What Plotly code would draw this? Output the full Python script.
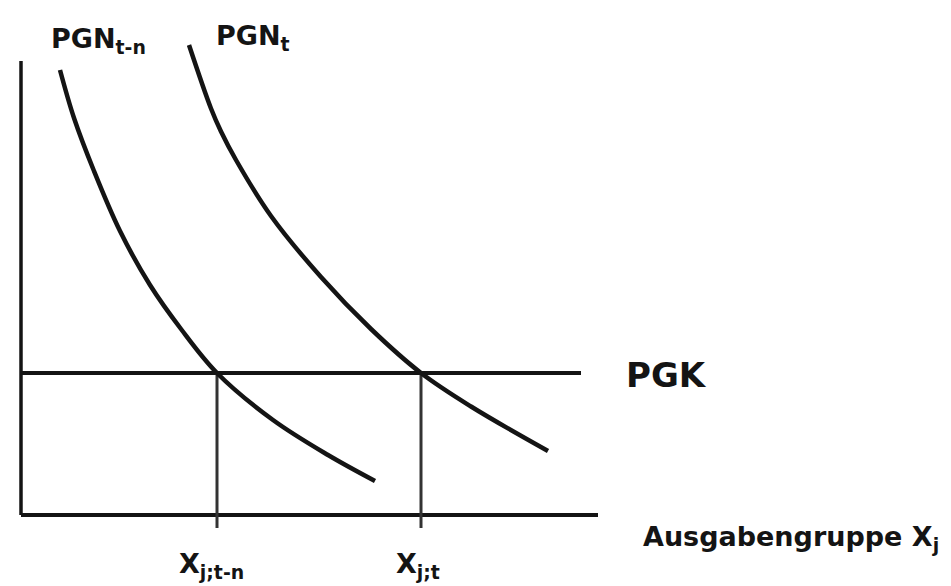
import plotly.graph_objects as go

# Data (abstract units: quantity on x, price on y)
pgn_tn_x = [0.78, 1.06, 1.46, 1.98, 2.58, 3.20, 3.92, 5.04, 6.14, 7.08]
pgn_tn_y = [8.90, 7.94, 6.88, 5.68, 4.60, 3.72, 2.84, 1.90, 1.20, 0.68]

pgn_t_x = [3.36, 3.80, 4.00, 4.30, 5.00, 6.00, 7.00, 8.00, 9.00, 10.54]
pgn_t_y = [9.40, 8.13, 7.67, 7.10, 5.98, 4.76, 3.72, 2.84, 2.17, 1.28]

pgk_level = 2.84
pgk_x_end = 11.2
x_axis_end = 11.54
y_axis_top = 9.08
x_jtn = 3.92
x_jt = 8.00
tick_below = -0.26

labels = {
    "pgn_tn": "PGN<sub>t-n</sub>",
    "pgn_t": "PGN<sub>t</sub>",
    "pgk": "PGK",
    "xlabel": "Ausgabengruppe X<sub>j</sub>",
    "x_jtn": "X<sub>j;t-n</sub>",
    "x_jt": "X<sub>j;t</sub>",
}

INK = "#141414"
fig = go.Figure()

def line(xs, ys, width=4, color=INK, shape="linear"):
    fig.add_trace(go.Scatter(x=xs, y=ys, mode="lines",
                             line=dict(color=color, width=width, shape=shape),
                             hoverinfo="skip", showlegend=False))

# axes
line([0, 0], [0, y_axis_top], width=3.5)
line([0, x_axis_end], [0, 0], width=4)
# PGK line
line([0, pgk_x_end], [pgk_level, pgk_level], width=4)
# drop lines
line([x_jtn, x_jtn], [pgk_level, tick_below], width=3, color="#333333")
line([x_jt, x_jt], [pgk_level, tick_below], width=3, color="#333333")
# curves
line(pgn_tn_x, pgn_tn_y, width=4.5, shape="spline")
line(pgn_t_x, pgn_t_y, width=4.5, shape="spline")

FONT = dict(family="DejaVu Sans, sans-serif", color=INK)

def label(x, y, text, size, xanchor="left"):
    fig.add_annotation(x=x, y=y, text="<b>" + text + "</b>", showarrow=False,
                       xanchor=xanchor, yanchor="middle",
                       font=dict(size=size, **FONT))

label(0.56, 9.50, labels["pgn_tn"], 27)
label(3.86, 9.56, labels["pgn_t"], 27)
label(12.06, 2.80, labels["pgk"], 34)
label(12.40, -0.46, labels["xlabel"], 27)
label(3.12, -1.00, labels["x_jtn"], 27)
label(7.46, -1.00, labels["x_jt"], 27)

fig.update_layout(
    width=951, height=586,
    margin=dict(l=0, r=0, t=0, b=0),
    paper_bgcolor="white", plot_bgcolor="white",
    xaxis=dict(range=[-0.26, 18.76], visible=False, fixedrange=True),
    yaxis=dict(range=[-1.58, 10.14], visible=False, fixedrange=True),
)

fig.write_html("out.html")
